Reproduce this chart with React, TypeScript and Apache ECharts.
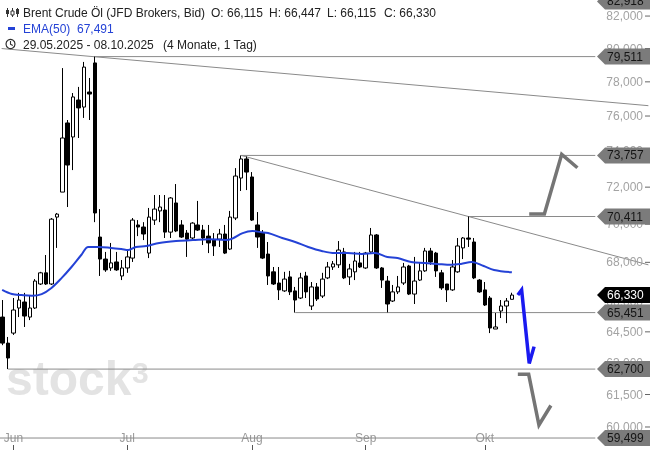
import React, { useEffect, useRef } from "react";
import * as echarts from "echarts";

const FONT = "'Liberation Sans', Arial, Helvetica, sans-serif";

// trading-day slots (weekdays) starting at the first candle
const START_DATE = [2025, 4, 29];
const SLOT_COUNT = 120;
const MONTH_LABELS = ["Jan", "Feb", "Mär", "Apr", "Mai", "Jun", "Jul", "Aug", "Sep", "Okt", "Nov", "Dez"];

// daily candles: [open, close, low, high]
const OHLC: number[][] = [
  [65.23, 63.95, 63.85, 66.08],
  [63.95, 63.23, 62.7, 64.25],
  [64.44, 65.58, 64.35, 66.18],
  [65.68, 66.08, 65.23, 66.44],
  [65.98, 65.28, 64.74, 66.44],
  [65.23, 65.68, 65.08, 66.33],
  [65.68, 67.04, 65.63, 67.14],
  [66.89, 67.46, 66.84, 67.51],
  [67.46, 66.89, 66.84, 68.38],
  [66.89, 70.27, 66.84, 70.33],
  [70.38, 70.54, 68.75, 70.6],
  [71.73, 74.74, 71.73, 78.82],
  [75.6, 73.22, 70.92, 75.77],
  [74.8, 77.11, 72.94, 77.34],
  [76.93, 76.47, 74.74, 77.7],
  [76.52, 78.88, 75.89, 79.19],
  [77.4, 77.28, 75.77, 78.23],
  [79.13, 70.6, 70.11, 79.511],
  [69.32, 68.17, 67.3, 70.81],
  [68.17, 67.61, 67.51, 68.54],
  [67.71, 67.97, 67.56, 69.01],
  [68.02, 67.61, 67.56, 68.54],
  [67.3, 67.71, 67.09, 68.12],
  [67.71, 68.28, 67.46, 68.64],
  [68.22, 70.22, 68.02, 70.33],
  [69.96, 69.85, 69.37, 70.22],
  [69.85, 69.48, 69.16, 70.11],
  [68.48, 70.38, 68.22, 70.87],
  [70.22, 70.81, 69.96, 71.57],
  [70.71, 70.92, 70.11, 71.57],
  [70.76, 69.58, 69.27, 71.57],
  [69.58, 71.41, 69.27, 71.46],
  [71.14, 69.64, 69.58, 72.17],
  [69.96, 69.32, 69.27, 70.22],
  [69.53, 69.21, 68.28, 69.69],
  [69.27, 70.06, 69.21, 70.11],
  [69.96, 69.69, 69.64, 71.25],
  [69.69, 69.27, 68.9, 69.96],
  [69.37, 69.01, 68.48, 69.96],
  [69.16, 68.85, 68.33, 69.53],
  [69.21, 69.48, 68.8, 69.75],
  [69.48, 68.48, 68.43, 69.96],
  [68.69, 70.38, 68.64, 70.71],
  [70.33, 72.61, 70.22, 73.05],
  [72.5, 73.56, 71.79, 73.757],
  [73.56, 72.83, 71.84, 73.7],
  [72.56, 70.22, 70.17, 72.83],
  [69.96, 69.32, 68.75, 70.65],
  [69.53, 68.22, 68.17, 69.69],
  [68.43, 67.3, 66.84, 69.06],
  [67.51, 66.89, 66.84, 67.76],
  [66.94, 66.59, 66.08, 67.76],
  [66.54, 67.14, 66.49, 67.51],
  [67.25, 66.49, 66.33, 67.56],
  [66.54, 66.08, 65.451, 66.74],
  [66.18, 67.2, 66.13, 67.46],
  [67.3, 66.49, 66.18, 67.51],
  [65.78, 66.74, 65.58, 66.99],
  [66.74, 66.13, 66.03, 66.94],
  [66.28, 67.14, 66.18, 67.46],
  [67.2, 67.76, 67.14, 68.02],
  [67.76, 67.92, 67.61, 68.07],
  [67.87, 68.64, 67.71, 69.11],
  [68.54, 67.2, 67.14, 68.75],
  [67.25, 67.66, 66.84, 67.92],
  [67.51, 68.07, 67.09, 68.54],
  [67.97, 67.76, 67.71, 68.54],
  [67.71, 68.48, 67.66, 68.54],
  [68.54, 69.43, 68.48, 69.8],
  [69.43, 67.71, 67.66, 69.48],
  [67.71, 67.09, 66.69, 67.76],
  [67.04, 65.88, 65.46, 67.3],
  [66.03, 66.49, 65.98, 66.84],
  [66.49, 66.74, 66.38, 67.3],
  [66.94, 67.76, 66.84, 67.97],
  [67.81, 66.38, 66.33, 67.87],
  [66.38, 67.04, 65.88, 68.28],
  [67.09, 67.56, 67.04, 67.97],
  [67.56, 68.59, 67.51, 68.75],
  [68.59, 68.02, 67.87, 68.75],
  [68.48, 67.56, 67.25, 68.54],
  [67.46, 66.69, 66.59, 67.61],
  [66.89, 66.59, 65.98, 66.89],
  [66.59, 67.76, 66.54, 68.12],
  [67.51, 68.85, 67.46, 69.27],
  [68.75, 69.27, 68.17, 69.32],
  [69.27, 69.21, 68.8, 70.411],
  [69.06, 67.2, 67.14, 69.27],
  [67.09, 66.49, 66.44, 67.14],
  [66.59, 65.83, 65.78, 66.99],
  [66.18, 64.69, 64.44, 66.28],
  [64.64, 64.74, 64.64, 65.43],
  [65.53, 65.78, 65.18, 66.08],
  [65.78, 66.03, 64.93, 66.18],
  [66.115, 66.33, 66.115, 66.447],
];

// EMA(50): [slot index, value]
const EMA50: number[][] = [
  [-0.1, 66.59], [1.7, 66.38], [3.5, 66.33], [5.4, 66.3], [7.2, 66.38], [9.0, 66.69],
  [10.9, 67.2], [12.7, 67.76], [14.5, 68.38], [15.8, 68.8], [17.7, 68.8], [20.0, 68.75],
  [21.9, 68.69], [23.2, 68.64], [24.6, 68.8], [26.5, 68.85], [28.9, 69.01], [32.0, 69.11],
  [35.1, 69.16], [38.0, 69.21], [41.1, 69.16], [42.4, 69.24], [44.3, 69.53], [46.1, 69.64],
  [47.6, 69.58], [49.0, 69.53], [51.6, 69.27], [54.0, 69.06], [56.4, 68.8], [58.9, 68.59],
  [61.3, 68.48], [63.7, 68.48], [66.3, 68.43], [68.7, 68.48], [71.0, 68.28], [72.9, 68.22],
  [75.4, 68.02], [77.8, 67.97], [80.2, 67.92], [82.8, 67.87], [84.6, 67.92], [86.6, 68.02],
  [88.8, 67.81], [90.7, 67.61], [94.0, 67.491],
];

const Y_TICKS = [82, 80, 78, 76, 74, 72, 70, 68, 66, 64.5, 63, 61.5, 60];
const LEVEL_PRICES = [82.918, 79.511, 73.757, 70.411, 65.451, 62.7, 59.499];
const LEVEL_STARTS = [null, 17, 44, 86, 54, 1, -0.5];
const LEVEL_END = 109.4;
const LAST_PRICE = 66.33;

const TREND_A = [[-0.2, 80.0], [119.2, 76.6]];
const TREND_B = [[44, 73.757], [119.2, 67.87]];

const ARROW_UP = [[97.2, 70.55], [100.0, 70.55], [103.2, 73.82], [106.1, 73.07]];
const ARROW_BLUE = [[95.1, 66.33], [95.8, 66.59], [97.2, 62.97], [98.1, 63.78]];
const ARROW_DOWN = [[95.1, 62.45], [97.1, 62.45], [99.0, 60.09], [101.2, 60.99]];

const Y_MIN = 58.96;
const Y_MAX = 83.007;

function fmt(v: number) {
  return v.toFixed(3).replace(".", ",");
}

function buildDates(): string[] {
  const out: string[] = [];
  const d = new Date(Date.UTC(START_DATE[0], START_DATE[1], START_DATE[2]));
  while (out.length < SLOT_COUNT) {
    const wd = d.getUTCDay();
    if (wd !== 0 && wd !== 6) out.push(d.toISOString().slice(0, 10));
    d.setUTCDate(d.getUTCDate() + 1);
  }
  return out;
}

export default function App() {
  const ref = useRef<HTMLDivElement>(null);
  useEffect(() => {
    const chart = echarts.init(ref.current!, null, { renderer: "svg" });
    const dates = buildDates();
    const monthStarts = new Set<number>();
    for (let i = 1; i < OHLC.length; i++) {
      if (dates[i].slice(5, 7) !== dates[i - 1].slice(5, 7)) monthStarts.add(i);
    }

    const lineBase: any = {
      type: "line",
      xAxisIndex: 1,
      yAxisIndex: 0,
      symbol: "none",
      silent: true,
      clip: false,
    };

    const levelSeries = LEVEL_PRICES.map((p, k) => {
      const s = LEVEL_STARTS[k];
      if (s === null) return null;
      return {
        ...lineBase,
        z: 2,
        data: [[s, p], [LEVEL_END, p]],
        lineStyle: { color: "#8a8a8a", width: 1 },
      };
    }).filter(Boolean);

    const option: any = {
      animation: false,
      grid: { left: -2, top: 0, width: 654, height: 450 },
      xAxis: [
        {
          type: "category",
          data: dates,
          boundaryGap: true,
          axisLine: { show: false },
          splitLine: { show: false },
          axisTick: {
            show: true,
            inside: true,
            length: 5,
            alignWithLabel: true,
            interval: (i: number) => monthStarts.has(i),
            lineStyle: { color: "#555" },
          },
          axisLabel: {
            inside: true,
            margin: 6,
            interval: (i: number) => monthStarts.has(i),
            formatter: (v: string) => MONTH_LABELS[parseInt(v.slice(5, 7), 10) - 1],
            color: "#9a9a9a",
            fontSize: 12,
            fontFamily: FONT,
          },
        },
        { type: "value", min: -0.5, max: SLOT_COUNT - 0.5, show: false },
      ],
      yAxis: [
        { type: "log", logBase: 10, min: Y_MIN, max: Y_MAX, show: false, splitLine: { show: false } },
      ],
      graphic: {
        elements: [
          {
            type: "text",
            x: 6,
            y: 378,
            z: 0,
            silent: true,
            style: { text: "stock", font: `bold 48px ${FONT}`, fill: "#e3e3e3", verticalAlign: "middle" },
          },
          {
            type: "text",
            x: 132,
            y: 372,
            z: 0,
            silent: true,
            style: { text: "3", font: `bold 30px ${FONT}`, fill: "#e3e3e3", verticalAlign: "middle" },
          },
          // candle icon
          { type: "line", z: 100, shape: { x1: 7.5, y1: 8, x2: 7.5, y2: 17 }, style: { stroke: "#333", lineWidth: 1 } },
          { type: "rect", z: 100, shape: { x: 6, y: 10, width: 3, height: 4 }, style: { fill: "#333" } },
          { type: "line", z: 100, shape: { x1: 12.5, y1: 8, x2: 12.5, y2: 17 }, style: { stroke: "#333", lineWidth: 1 } },
          { type: "rect", z: 100, shape: { x: 11, y: 11, width: 3, height: 4 }, style: { fill: "#fff", stroke: "#333", lineWidth: 1 } },
          { type: "line", z: 100, shape: { x1: 17.5, y1: 8, x2: 17.5, y2: 17 }, style: { stroke: "#333", lineWidth: 1 } },
          { type: "rect", z: 100, shape: { x: 16, y: 9, width: 3, height: 5 }, style: { fill: "#333" } },
          { type: "text", z: 100, x: 23, y: 12.5, style: { text: "Brent Crude Öl (JFD Brokers, Bid)", font: `12px ${FONT}`, fill: "#222", verticalAlign: "middle" } },
          { type: "text", z: 100, x: 211, y: 12.5, style: { text: "O: 66,115", font: `12px ${FONT}`, fill: "#222", verticalAlign: "middle" } },
          { type: "text", z: 100, x: 269, y: 12.5, style: { text: "H: 66,447", font: `12px ${FONT}`, fill: "#222", verticalAlign: "middle" } },
          { type: "text", z: 100, x: 327, y: 12.5, style: { text: "L: 66,115", font: `12px ${FONT}`, fill: "#222", verticalAlign: "middle" } },
          { type: "text", z: 100, x: 384, y: 12.5, style: { text: "C: 66,330", font: `12px ${FONT}`, fill: "#222", verticalAlign: "middle" } },
          { type: "rect", z: 100, shape: { x: 8, y: 27, width: 7, height: 3 }, style: { fill: "#2442d6" } },
          { type: "text", z: 100, x: 23, y: 28.5, style: { text: "EMA(50)", font: `12px ${FONT}`, fill: "#2442d6", verticalAlign: "middle" } },
          { type: "text", z: 100, x: 77, y: 28.5, style: { text: "67,491", font: `12px ${FONT}`, fill: "#2442d6", verticalAlign: "middle" } },
          { type: "circle", z: 100, shape: { cx: 10.5, cy: 44, r: 4.5 }, style: { fill: "none", stroke: "#333", lineWidth: 1.2 } },
          { type: "polyline", z: 100, shape: { points: [[10.5, 41], [10.5, 44.3], [12.8, 45.6]] }, style: { fill: "none", stroke: "#333", lineWidth: 1.1 } },
          { type: "text", z: 100, x: 23, y: 44.5, style: { text: "29.05.2025 - 08.10.2025", font: `12px ${FONT}`, fill: "#222", verticalAlign: "middle" } },
          { type: "text", z: 100, x: 163, y: 44.5, style: { text: "(4 Monate, 1 Tag)", font: `12px ${FONT}`, fill: "#222", verticalAlign: "middle" } },
        ],
      },
      series: [
        {
          type: "candlestick",
          xAxisIndex: 0,
          yAxisIndex: 0,
          data: OHLC,
          barWidth: 4,
          z: 3,
          silent: true,
          itemStyle: {
            color: "#ffffff",
            color0: "#000000",
            borderColor: "#000000",
            borderColor0: "#000000",
            borderWidth: 1,
          },
        },
        {
          ...lineBase,
          z: 4,
          smooth: 0.35,
          data: EMA50,
          lineStyle: { color: "#2442d6", width: 2 },
        },
        { ...lineBase, z: 2, data: TREND_A, lineStyle: { color: "#8a8a8a", width: 1 } },
        { ...lineBase, z: 2, data: TREND_B, lineStyle: { color: "#8a8a8a", width: 1 } },
        ...levelSeries,
        { ...lineBase, z: 5, data: ARROW_UP, lineStyle: { color: "#757575", width: 3.5, join: "miter" } },
        { ...lineBase, z: 5, data: ARROW_DOWN, lineStyle: { color: "#757575", width: 3.5, join: "miter" } },
        { ...lineBase, z: 5, data: ARROW_BLUE, lineStyle: { color: "#1a1af0", width: 3.5, join: "miter" } },
        {
          type: "custom",
          xAxisIndex: 1,
          yAxisIndex: 0,
          z: 6,
          silent: true,
          clip: false,
          encode: { x: 0, y: 1 },
          data: Y_TICKS.map((v) => [0, v]),
          renderItem: (params: any, api: any) => {
            const v = api.value(1);
            const y = api.coord([0, v])[1];
            const W = api.getWidth();
            return {
              type: "group",
              children: [
                {
                  type: "text",
                  x: W - 7,
                  y,
                  style: { text: fmt(v), fill: "#a3a3a3", font: `12px ${FONT}`, align: "right", verticalAlign: "middle" },
                },
                { type: "line", shape: { x1: W - 5, y1: y, x2: W, y2: y }, style: { stroke: "#666", lineWidth: 1 } },
              ],
            };
          },
        },
        {
          type: "custom",
          xAxisIndex: 1,
          yAxisIndex: 0,
          z: 7,
          silent: true,
          clip: false,
          encode: { x: 0, y: 1 },
          data: [...LEVEL_PRICES.map((v) => [0, v, 0]), [0, LAST_PRICE, 1]],
          renderItem: (params: any, api: any) => {
            const v = api.value(1);
            const last = api.value(2) === 1;
            const y = api.coord([0, v])[1];
            const W = api.getWidth();
            return {
              type: "group",
              children: [
                {
                  type: "polygon",
                  shape: { points: [[597, y], [605, y - 8], [W, y - 8], [W, y + 8], [605, y + 8]] },
                  style: { fill: last ? "#000000" : "#7b7b7b" },
                },
                {
                  type: "text",
                  x: 607,
                  y,
                  style: { text: fmt(v), fill: last ? "#ffffff" : "#151515", font: `12px ${FONT}`, verticalAlign: "middle" },
                },
              ],
            };
          },
        },
      ],
    };
    chart.setOption(option);
    return () => chart.dispose();
  }, []);
  return <div ref={ref} style={{ position: "fixed", left: 0, top: 0, width: 650, height: 450 }} />;
}
